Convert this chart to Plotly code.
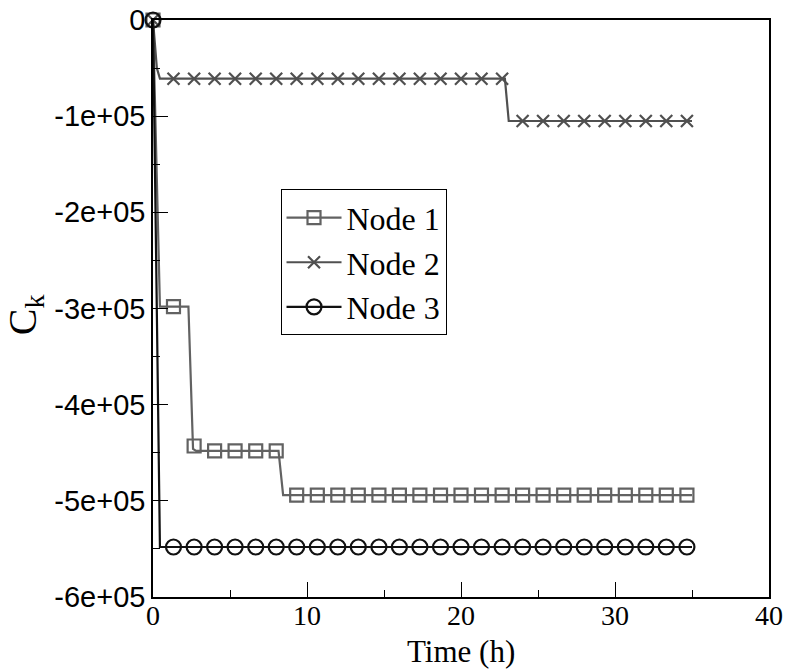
import plotly.graph_objects as go

# ---- data ----
marker_t = [0, 1.33, 2.67, 4.0, 5.33, 6.67, 8.0, 9.33, 10.67, 12.0, 13.33, 14.67, 16.0,
            17.33, 18.67, 20.0, 21.33, 22.67, 24.0, 25.33, 26.67, 28.0, 29.33, 30.67,
            32.0, 33.33, 34.67]
node1_marker = [0, -298000, -443000, -448000, -448000, -448000, -448000,
                -494000, -494000, -494000, -494000, -494000, -494000, -494000,
                -494000, -494000, -494000, -494000, -494000, -494000, -494000,
                -494000, -494000, -494000, -494000, -494000, -494000]
node2_marker = [0, -61000, -61000, -61000, -61000, -61000, -61000, -61000, -61000,
                -61000, -61000, -61000, -61000, -61000, -61000, -61000, -61000, -61000,
                -105000, -105000, -105000, -105000, -105000, -105000, -105000,
                -105000, -105000]
node3_marker = [0, -548000, -548000, -548000, -548000, -548000, -548000, -548000,
                -548000, -548000, -548000, -548000, -548000, -548000, -548000,
                -548000, -548000, -548000, -548000, -548000, -548000, -548000,
                -548000, -548000, -548000, -548000, -548000]

# step outlines of each curve
node1_line_t = [0, 0.45, 2.3, 2.6, 2.8, 8.15, 8.45, 35]
node1_line_y = [0, -298000, -298000, -446000, -448000, -448000, -494000, -494000]
node2_line_t = [0, 0.25, 0.45, 22.85, 23.1, 35]
node2_line_y = [0, -50000, -61000, -61000, -105000, -105000]
node3_line_t = [0, 0.45, 35]
node3_line_y = [0, -548000, -548000]

names = ["Node 1", "Node 2", "Node 3"]
y_tickvals = [0, -100000, -200000, -300000, -400000, -500000, -600000]
y_ticktext = ["0", "-1e+05", "-2e+05", "-3e+05", "-4e+05", "-5e+05", "-6e+05"]
x_tickvals = [0, 10, 20, 30, 40]

SERIF = "Liberation Serif"
SANS = "Liberation Sans"

c1 = "#626262"
c2 = "#505050"
c3 = "#111111"

fig = go.Figure()

series = [
    (names[0], node1_line_t, node1_line_y, node1_marker, c1, "square-open", 13),
    (names[1], node2_line_t, node2_line_y, node2_marker, c2, "x-thin-open", 12),
    (names[2], node3_line_t, node3_line_y, node3_marker, c3, "circle-open", 15),
]

for name, lt, ly, my, col, sym, sz in series:
    fig.add_trace(go.Scatter(x=lt, y=ly, mode="lines", line=dict(color=col, width=2.2),
                             showlegend=False, hoverinfo="skip", cliponaxis=False))
    fig.add_trace(go.Scatter(x=marker_t, y=my, mode="markers", showlegend=False,
                             cliponaxis=False,
                             marker=dict(symbol=sym, size=sz, color=col,
                                         line=dict(color=col, width=2.2))))

for name, lt, ly, my, col, sym, sz in series:
    fig.add_trace(go.Scatter(x=[None], y=[None], mode="lines+markers", name=name,
                             line=dict(color=col, width=2.2),
                             marker=dict(symbol=sym, size=sz, color=col,
                                         line=dict(color=col, width=2.2))))

axis_common = dict(showgrid=False, zeroline=False, showline=True, linecolor="black",
                   linewidth=1.5, mirror=True, ticks="inside", ticklen=15,
                   tickwidth=1.3, tickcolor="black", automargin=False,
                   ticklabeloverflow="allow")

fig.update_xaxes(range=[0, 40], tickvals=x_tickvals,
                 tickfont=dict(family=SERIF, size=28, color="black"),
                 ticklabelstandoff=-7,
                 minor=dict(ticks="inside", ticklen=7, dtick=5, tickcolor="black",
                            tickwidth=1.3, showgrid=False),
                 **axis_common)
fig.update_yaxes(range=[-600000, 0], tickvals=y_tickvals, ticktext=y_ticktext,
                 tickfont=dict(family=SANS, size=29, color="black"),
                 minor=dict(ticks="inside", ticklen=7, dtick=50000, tickcolor="black",
                            tickwidth=1.3, showgrid=False),
                 **axis_common)

fig.add_annotation(text="Time (h)", xref="paper", yref="paper",
                   x=0.5, y=-0.095, xanchor="center", yanchor="middle",
                   showarrow=False, font=dict(family=SERIF, size=31, color="black"))

fig.add_annotation(text="C<sub>k</sub>", xref="paper", yref="paper",
                   x=-0.208, y=0.49, xanchor="center", yanchor="middle",
                   textangle=-90, showarrow=False,
                   font=dict(family=SERIF, size=40, color="black"))

fig.update_layout(
    width=787, height=672,
    margin=dict(l=153, r=18, t=20, b=75),
    plot_bgcolor="white", paper_bgcolor="white",
    legend=dict(x=0.207, y=0.58, xanchor="left", yanchor="middle",
                bgcolor="white", bordercolor="black", borderwidth=1,
                font=dict(family=SERIF, size=32, color="black"),
                tracegroupgap=0, itemwidth=55),
)

fig.write_html("out.html", config={"displayModeBar": False},
               post_script="document.body.style.margin='0';")
